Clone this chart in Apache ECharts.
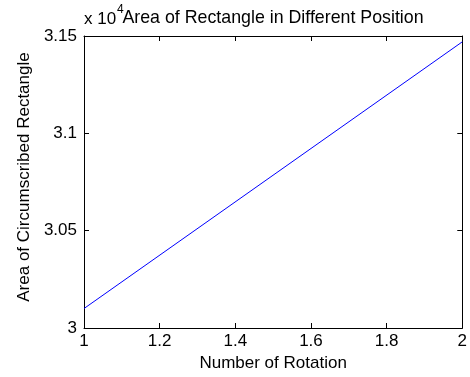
<!DOCTYPE html>
<html>
<head>
<meta charset="utf-8">
<script src="https://cdn.jsdelivr.net/npm/echarts@6/dist/echarts.min.js"></script>
<style>html,body{margin:0;padding:0;background:#fff}#c{width:470px;height:377px}</style>
</head>
<body>
<div id="c"></div>
<script>
var rotation = [1, 2];
var areaValues = [3.010, 3.147];
var xTicks = ['1', '1.2', '1.4', '1.6', '1.8', '2'];
var yTicks = ['3', '3.05', '3.1', '3.15'];

var FONT = 'Liberation Sans';
var FS = 17;
var data = rotation.map(function (x, i) { return [x, areaValues[i]]; });
var chart = echarts.init(document.getElementById('c'));
var tickStyle = {show: true, inside: true, length: 5, lineStyle: {color: '#000', width: 1}};
var lineStyle = {show: true, lineStyle: {color: '#000', width: 1}};
chart.setOption({
  animation: false,
  backgroundColor: '#fff',
  grid: {left: 84, right: 7, top: 36, bottom: 48, containLabel: false},
  title: [{
    text: 'Area of Rectangle in Different Position',
    left: 268, top: 4, textAlign: 'center',
    textStyle: {fontFamily: FONT, fontSize: 17.8, fontWeight: 'normal', color: '#000'}
  }],
  graphic: [{
    type: 'text', left: 84, top: 11,
    style: {text: 'x 10', font: '17px ' + FONT, fill: '#000'}
  }, {
    type: 'text', left: 117, top: 4,
    style: {text: '4', font: '12px ' + FONT, fill: '#000'}
  }],
  xAxis: [{
    type: 'value', min: 1, max: 2, interval: 0.2,
    axisLine: lineStyle, axisTick: tickStyle, splitLine: {show: false},
    axisLabel: {margin: 5, fontFamily: FONT, fontSize: FS, color: '#000',
      formatter: function (v) { return xTicks[Math.round((v - 1) / 0.2)]; }},
    name: 'Number of Rotation', nameLocation: 'middle', nameGap: 27,
    nameTextStyle: {fontFamily: FONT, fontSize: FS, color: '#000'}
  }, {
    type: 'value', position: 'top', min: 1, max: 2, interval: 0.2,
    axisLine: lineStyle, axisTick: tickStyle, splitLine: {show: false},
    axisLabel: {show: false}
  }],
  yAxis: [{
    type: 'value', min: 3, max: 3.15, interval: 0.05,
    axisLine: lineStyle, axisTick: tickStyle, splitLine: {show: false},
    axisLabel: {margin: 7, fontFamily: FONT, fontSize: FS, color: '#000',
      formatter: function (v) { return yTicks[Math.round((v - 3) / 0.05)]; }},
    name: 'Area of Circumscribed Rectangle', nameLocation: 'middle', nameGap: 50,
    nameTextStyle: {fontFamily: FONT, fontSize: FS, color: '#000', padding: [0, 0, 0, 10]}
  }, {
    type: 'value', position: 'right', min: 3, max: 3.15, interval: 0.05,
    axisLine: lineStyle, axisTick: tickStyle, splitLine: {show: false},
    axisLabel: {show: false}
  }],
  series: [{
    type: 'line', data: data, showSymbol: false, symbol: 'none',
    lineStyle: {color: '#0000ff', width: 1}
  }]
});
</script>
</body>
</html>
